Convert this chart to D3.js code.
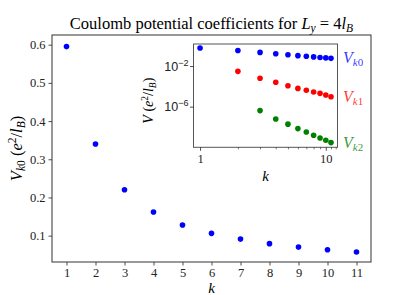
<!DOCTYPE html>
<html>
<head>
<meta charset="utf-8">
<script src="https://cdn.jsdelivr.net/npm/d3@7"></script>
<style>
  body { margin: 0; background: #fff; }
  svg { display: block; font-family: "Liberation Serif", "DejaVu Serif", serif; }
</style>
</head>
<body>
<svg id="chart" width="412" height="295"></svg>
<script>
const ks = [1, 2, 3, 4, 5, 6, 7, 8, 9, 10, 11];
const vk0 = [0.595, 0.34, 0.22, 0.162, 0.128, 0.106, 0.091, 0.079, 0.070, 0.063, 0.057];
const vk1 = [null, 3.0e-3, 6.2e-4, 2.5e-4, 1.15e-4, 6.3e-5, 4.1e-5, 2.75e-5, 2.05e-5, 1.4e-5, 9.5e-6];
const vk2 = [null, null, 4.1e-7, 6.2e-8, 1.9e-8, 6.9e-9, 3.2e-9, 1.55e-9, 8.3e-10, 4.9e-10, 2.9e-10];
const yTicks = [0.1, 0.2, 0.3, 0.4, 0.5, 0.6];
const insetYTicks = [1e-2, 1e-6];

const svg = d3.select("#chart");
const m = { left: 52, right: 371, top: 35, bottom: 262 };

const x = d3.scaleLinear().domain([0.5, 11.5]).range([m.left, m.right]);
const y = d3.scaleLinear().domain([0.031, 0.6254]).range([m.bottom, m.top]);

// title
const title = svg.append("text")
  .attr("x", (m.left + m.right) / 2).attr("y", 29)
  .attr("text-anchor", "middle").attr("font-size", 16.5);
title.append("tspan").text("Coulomb potential coefficients for ");
title.append("tspan").attr("font-style", "italic").text("L");
title.append("tspan").attr("font-style", "italic").attr("font-size", 11.5).attr("dy", 3).text("y");
title.append("tspan").attr("dy", -3).text(" = 4");
title.append("tspan").attr("font-style", "italic").text("l");
title.append("tspan").attr("font-style", "italic").attr("font-size", 11.5).attr("dy", 3).text("B");

// axes
const gx = svg.append("g").attr("transform", `translate(0,${m.bottom})`)
  .call(d3.axisBottom(x).tickValues(ks).tickSize(3.5).tickPadding(3).tickFormat(d3.format("d")));
const gy = svg.append("g").attr("transform", `translate(${m.left},0)`)
  .call(d3.axisLeft(y).tickValues(yTicks).tickSize(3.5).tickPadding(3).tickFormat(d3.format(".1f")));
[gx, gy].forEach(g => {
  g.select(".domain").remove();
  g.selectAll("line").attr("stroke", "#222").attr("stroke-width", 0.8);
  g.selectAll("text").attr("font-size", 12.5).attr("fill", "#222")
    .attr("font-family", "Liberation Serif, serif");
});

svg.append("rect")
  .attr("x", m.left).attr("y", m.top)
  .attr("width", m.right - m.left).attr("height", m.bottom - m.top)
  .attr("fill", "none").attr("stroke", "#333").attr("stroke-width", 1);

svg.append("g").selectAll("circle")
  .data(ks.map((k, i) => [k, vk0[i]]))
  .enter().append("circle")
  .attr("cx", d => x(d[0])).attr("cy", d => y(d[1]))
  .attr("r", 2.8).attr("fill", "#0000ff");

// axis labels
svg.append("text")
  .attr("x", (m.left + m.right) / 2).attr("y", 293)
  .attr("text-anchor", "middle").attr("font-size", 15)
  .attr("font-style", "italic").text("k");

const yl = svg.append("text")
  .attr("transform", `translate(22,${(m.top + m.bottom) / 2}) rotate(-90)`)
  .attr("text-anchor", "middle").attr("font-size", 16.5);
yl.append("tspan").attr("font-style", "italic").text("V");
yl.append("tspan").attr("font-size", 11.5).attr("dy", 3).attr("font-style", "italic").text("k");
yl.append("tspan").attr("font-size", 11.5).text("0");
yl.append("tspan").attr("dy", -3).text(" (");
yl.append("tspan").attr("font-style", "italic").text("e");
yl.append("tspan").attr("font-size", 11.5).attr("dy", -6).text("2");
yl.append("tspan").attr("dy", 6).text("/");
yl.append("tspan").attr("font-style", "italic").text("l");
yl.append("tspan").attr("font-size", 11.5).attr("dy", 3).attr("font-style", "italic").text("B");
yl.append("tspan").attr("dy", -3).text(")");

// inset
const im = { left: 193.5, right: 337.5, top: 44, bottom: 147.3 };
const ix = d3.scaleLog().domain([0.887, 12.39]).range([im.left, im.right]);
const iy = d3.scaleLog().domain([1e-10, Math.pow(10, 0.17)]).range([im.bottom, im.top]);

svg.append("rect")
  .attr("x", im.left).attr("y", im.top)
  .attr("width", im.right - im.left).attr("height", im.bottom - im.top)
  .attr("fill", "#fff").attr("stroke", "#555").attr("stroke-width", 1);

const minorX = [2, 3, 4, 5, 6, 7, 8, 9, 11, 12];
const igx = svg.append("g").attr("transform", `translate(0,${im.bottom})`)
  .call(d3.axisBottom(ix).tickValues([1, 10]).tickSize(3.5).tickPadding(3).tickFormat(d3.format("d")));
svg.append("g").attr("transform", `translate(0,${im.bottom})`)
  .call(d3.axisBottom(ix).tickValues(minorX).tickSize(2).tickFormat(""))
  .call(g => g.select(".domain").remove())
  .selectAll("line").attr("stroke", "#222").attr("stroke-width", 0.6);
const igy = svg.append("g").attr("transform", `translate(${im.left},0)`)
  .call(d3.axisLeft(iy).tickValues(insetYTicks).tickSize(3.5).tickPadding(3).tickFormat(""));
[igx, igy].forEach(g => {
  g.select(".domain").remove();
  g.selectAll("line").attr("stroke", "#222").attr("stroke-width", 0.8);
  g.selectAll("text").attr("font-size", 12.5).attr("fill", "#222")
    .attr("font-family", "Liberation Serif, serif");
});
igy.selectAll(".tick").each(function (d) {
  const t = d3.select(this).append("text")
    .attr("x", -5).attr("dy", "0.32em").attr("text-anchor", "end")
    .attr("font-size", 12.5).attr("fill", "#222");
  t.append("tspan").text("10");
  t.append("tspan").attr("font-size", 9).attr("dy", -5).text("\u2212" + Math.round(-Math.log10(d)));
});

const series = [
  { vals: vk0, color: "#0000ff", label: "0" },
  { vals: vk1, color: "#ff0000", label: "1" },
  { vals: vk2, color: "#008000", label: "2" }
];
series.forEach(s => {
  const pts = ks.map((k, i) => [k, s.vals[i]]).filter(d => d[1] != null);
  svg.append("g").selectAll("circle")
    .data(pts).enter().append("circle")
    .attr("cx", d => ix(d[0])).attr("cy", d => iy(d[1]))
    .attr("r", 2.8).attr("fill", s.color);
  const last = pts[pts.length - 1];
  const lab = svg.append("text")
    .attr("x", 343).attr("y", iy(last[1]) + 5)
    .attr("font-size", 16).attr("fill", s.color).attr("fill-opacity", 0.8);
  lab.append("tspan").attr("font-style", "italic").text("V");
  lab.append("tspan").attr("font-size", 11).attr("dy", 3).attr("font-style", "italic").text("k");
  lab.append("tspan").attr("font-size", 11).text(s.label);
});

svg.append("text")
  .attr("x", (im.left + im.right) / 2).attr("y", 181)
  .attr("text-anchor", "middle").attr("font-size", 15)
  .attr("font-style", "italic").text("k");

const iyl = svg.append("text")
  .attr("transform", `translate(153,${(im.top + im.bottom) / 2 + 5}) rotate(-90)`)
  .attr("text-anchor", "middle").attr("font-size", 14);
iyl.append("tspan").attr("font-style", "italic").text("V");
iyl.append("tspan").text(" (");
iyl.append("tspan").attr("font-style", "italic").text("e");
iyl.append("tspan").attr("font-size", 9.5).attr("dy", -5).text("2");
iyl.append("tspan").attr("dy", 5).text("/");
iyl.append("tspan").attr("font-style", "italic").text("l");
iyl.append("tspan").attr("font-size", 9.5).attr("dy", 3).attr("font-style", "italic").text("B");
iyl.append("tspan").attr("dy", -3).text(")");
</script>
</body>
</html>
